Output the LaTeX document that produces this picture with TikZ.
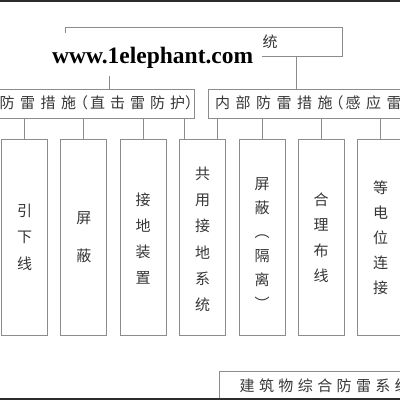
\documentclass[tikz,border=0pt]{standalone}
\usepackage{fontspec}
\newfontfamily\cjk{Noto Sans CJK SC}
\newfontfamily\wmfont{Liberation Serif}
\definecolor{ln}{RGB}{140,140,140}
\definecolor{tx}{RGB}{55,55,55}
\definecolor{band}{RGB}{45,45,45}
\newcommand\gp{\hspace{5pt}}
\newcommand\gpa{\hspace{5.5pt}}
\newcommand\gpb{\hspace{4.4pt}}
\tikzset{
  box/.style={draw=ln, line width=0.9pt, inner sep=0pt, rectangle},
  lbl/.style={text=tx, font=\cjk\fontsize{15pt}{15pt}\selectfont, inner sep=0pt},
  vtxt/.style={text=tx, align=center, inner sep=0pt, font=\cjk\fontsize{15pt}{#1}\selectfont},
  conn/.style={draw=ln, line width=0.9pt},
  wmtext/.style={text=black, inner sep=0pt, font=\wmfont\bfseries\fontsize{23.5pt}{23.5pt}\selectfont}
}
\begin{document}
\begin{tikzpicture}[x=1pt,y=-1pt]
\useasboundingbox (0,0) rectangle (400,400);
\clip (0,0) rectangle (400,400);
\fill[white] (0,0) rectangle (400,400);

% boxes
\node[box, minimum width=277pt, minimum height=29pt] (top) at (203.5,41.5) {};
\node[box, minimum width=204pt, minimum height=29pt] (L) at (92,103.5) {};
\node[box, minimum width=202pt, minimum height=29pt] (R) at (309,103.5) {};
\node[box, minimum width=46pt, minimum height=196pt] (b1) at (24.5,237) {};
\node[box, minimum width=46pt, minimum height=196pt] (b2) at (83.8,237) {};
\node[box, minimum width=46pt, minimum height=196pt] (b3) at (143,237) {};
\node[box, minimum width=46pt, minimum height=196pt] (b4) at (202.5,237) {};
\node[box, minimum width=46pt, minimum height=196pt] (b5) at (262,237) {};
\node[box, minimum width=46pt, minimum height=196pt] (b6) at (321,237) {};
\node[box, minimum width=46pt, minimum height=196pt] (b7) at (380.5,237) {};
\node[box, minimum width=191pt, minimum height=39pt] (bot) at (314.5,390.5) {};

% connector x positions
\coordinate (xa) at (109,0);
\coordinate (xb) at (296,0);
\coordinate (xc) at (184,0);
\coordinate (xd) at (217,0);

\draw[conn] (top.south -| xa) -- (L.north -| xa);
\draw[conn] (top.south -| xb) -- (R.north -| xb);
\draw[conn] (L.south -| b1.north) -- (b1.north);
\draw[conn] (L.south -| b2.north) -- (b2.north);
\draw[conn] (L.south -| b3.north) -- (b3.north);
\draw[conn] (L.south -| xc) -- (b4.north -| xc);
\draw[conn] (R.south -| xd) -- (b4.north -| xd);
\draw[conn] (R.south -| b5.north) -- (b5.north);
\draw[conn] (R.south -| b6.north) -- (b6.north);
\draw[conn] (R.south -| b7.north) -- (b7.north);

% watermark
\fill[white] (40,33) rectangle (262,76);
\node[wmtext, anchor=base west] (wm) at (52,63) {www.1elephant.com};

% texts
\node[lbl] (tt) at (270,42) {统};
\node[lbl, anchor=west] (Lt) at (-0.5,102.5) {防\gpa 雷\gpa 措\gpa 施\kern-3pt（\kern2pt 直\gp 击\gp 雷\gp 防\gp 护）};
\node[lbl, anchor=west] (Rt) at (215,102.5) {内\gpa 部\gpa 防\gpa 雷\gpa 措\gpa 施\kern-4pt（\kern2pt 感\gpa 应\gpa 雷};
\node[vtxt=26.5pt] (t1) at (24.5,237) {引\\下\\线};
\node[vtxt=37.5pt] (t2) at (83.8,237) {屏\\蔽};
\node[vtxt=26pt] (t3) at (143,238.5) {接\\地\\装\\置};
\node[vtxt=26.3pt] (t4) at (202.5,239.3) {共\\用\\接\\地\\系\\统};
\node[vtxt=24pt] (t5) at (262,243.5) {屏\\蔽\\︵\\隔\\离\\︶};
\node[vtxt=25.2pt] (t6) at (321,237.7) {合\\理\\布\\线};
\node[vtxt=25pt] (t7) at (380.5,237.5) {等\\电\\位\\连\\接};
\node[lbl, anchor=west] (bt) at (239.5,385.5) {建\gpb 筑\gpb 物\gpb 综\gpb 合\gpb 防\gpb 雷\gpb 系\gpb 统};

% dark bands
\fill[band] (0,0) rectangle (400,1.6);
\fill[band] (0,397.7) rectangle (400,400);
\end{tikzpicture}
\end{document}
